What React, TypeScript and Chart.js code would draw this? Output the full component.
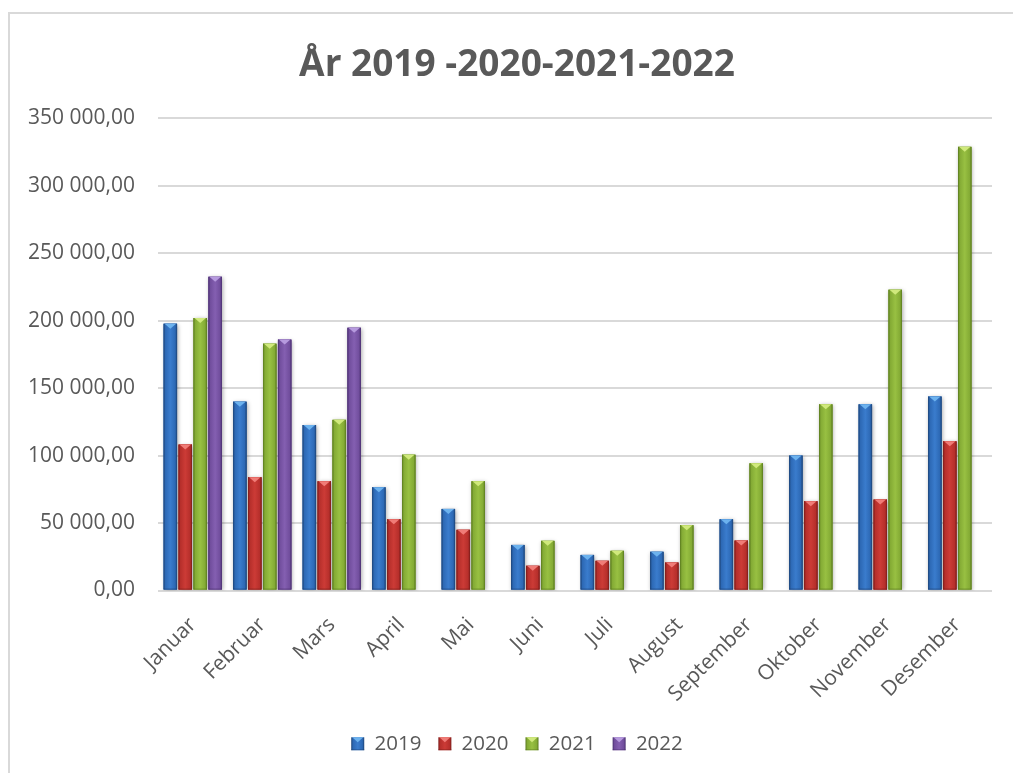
import { useEffect, useRef } from "react";
import { Chart, registerables } from "chart.js";

Chart.register(...registerables);

const months = [
  "Januar", "Februar", "Mars", "April", "Mai", "Juni",
  "Juli", "August", "September", "Oktober", "November", "Desember",
];
const seriesLabels = ["2019", "2020", "2021", "2022"];
const values2019 = [197800, 140000, 122700, 76500, 60500, 33800, 26400, 28700, 52800, 100000, 138000, 143800];
const values2020 = [108200, 84000, 81000, 52800, 45000, 18300, 22000, 20700, 37000, 66200, 67400, 110600];
const values2021 = [202000, 183000, 126500, 100700, 81000, 36800, 29400, 48400, 94300, 138000, 223000, 328900];
const values2022 = [232600, 186000, 194800, null, null, null, null, null, null, null, null, null];
const yMin = 0;
const yMax = 350000;
const yStep = 50000;
const titleText = "År 2019 -2020-2021-2022";

const palettes = [
  { dark: "#1c4274", mid: "#2d69b5", light: "#3a7ccd", cap: "#6cb2ee" },
  { dark: "#7a1b19", mid: "#b62f2b", light: "#cc3b36", cap: "#f07c77" },
  { dark: "#58781d", mid: "#84ab35", light: "#98c042", cap: "#d0e97c" },
  { dark: "#482e6e", mid: "#714e9d", light: "#845fb1", cap: "#b69ade" },
];

const FONT = '"Open Sans", "Noto Sans", sans-serif';
const TEXT = "#595959";

const fmt = (v: number) =>
  Math.round(v).toString().replace(/\B(?=(\d{3})+(?!\d))/g, " ") + ",00";

function paintBox(ctx: CanvasRenderingContext2D, left: number, top: number, w: number, h: number, pal: any, capH: number) {
  const g = ctx.createLinearGradient(left, 0, left + w, 0);
  g.addColorStop(0, pal.dark);
  g.addColorStop(0.14, pal.mid);
  g.addColorStop(0.5, pal.light);
  g.addColorStop(0.86, pal.mid);
  g.addColorStop(1, pal.dark);
  ctx.fillStyle = g;
  ctx.fillRect(left, top, w, h);
  const ch = Math.min(capH, h);
  ctx.fillStyle = pal.cap;
  ctx.beginPath();
  ctx.moveTo(left + 1, top);
  ctx.lineTo(left + w - 1, top);
  ctx.lineTo(left + w / 2, top + ch);
  ctx.closePath();
  ctx.fill();
  ctx.fillStyle = pal.dark;
  ctx.globalAlpha = 0.5;
  ctx.fillRect(left, top + h - 1, w, 1);
  ctx.globalAlpha = 1;
}

const barStyle = {
  id: "barStyle",
  afterDatasetsDraw(chart: any) {
    const ctx = chart.ctx as CanvasRenderingContext2D;
    const bars: any[] = [];
    chart.data.datasets.forEach((ds: any, di: number) => {
      const meta = chart.getDatasetMeta(di);
      meta.data.forEach((el: any, i: number) => {
        if (ds.data[i] == null) return;
        const p = el.getProps(["x", "y", "base", "width"], true);
        bars.push({ ...p, pal: palettes[di] });
      });
    });
    ctx.save();
    ctx.beginPath();
    ctx.rect(chart.chartArea.left, chart.chartArea.top - 10, chart.chartArea.width, chart.chartArea.height + 10);
    ctx.clip();
    ctx.save();
    ctx.shadowColor = "rgba(0,0,0,0.35)";
    ctx.shadowBlur = 4;
    ctx.shadowOffsetX = 1;
    ctx.shadowOffsetY = 1;
    bars.forEach((b) => {
      ctx.fillStyle = b.pal.mid;
      ctx.fillRect(b.x - b.width / 2, b.y, b.width, b.base - b.y);
    });
    ctx.restore();
    bars.forEach((b) => {
      paintBox(ctx, b.x - b.width / 2, b.y, b.width, b.base - b.y, b.pal, 5);
    });
    ctx.restore();
  },
  afterDraw(chart: any) {
    const legend = chart.legend;
    if (!legend || !legend.legendHitBoxes) return;
    const ctx = chart.ctx as CanvasRenderingContext2D;
    const fs = legend.options.labels.font.size || 20;
    legend.legendHitBoxes.forEach((hb: any, i: number) => {
      const bh = 13;
      const top = hb.top + Math.max((fs - bh) / 2, 0);
      ctx.save();
      ctx.fillStyle = "#ffffff";
      ctx.fillRect(hb.left - 1, top - 1, 15, 15);
      paintBox(ctx, hb.left, top, 13, 13, palettes[i], 5);
      ctx.restore();
    });
  },
};

export default function App() {
  const ref = useRef<HTMLCanvasElement>(null);
  useEffect(() => {
    const datasets = [values2019, values2020, values2021, values2022].map((d, i) => ({
      label: seriesLabels[i],
      data: d,
      backgroundColor: palettes[i].mid,
      borderWidth: 0,
      categoryPercentage: 0.86,
      barPercentage: 0.9,
    }));
    const chart = new Chart(ref.current as HTMLCanvasElement, {
      type: "bar",
      data: { labels: months, datasets },
      options: {
        animation: false,
        responsive: false,
        devicePixelRatio: 1,
        layout: { padding: { left: 17, right: 0, top: 0, bottom: 10 } },
        plugins: {
          title: {
            display: true,
            text: titleText,
            color: TEXT,
            font: { family: FONT, size: 37, weight: "bold", lineHeight: 1.2 },
            padding: { top: 29, bottom: 31 },
          },
          legend: {
            position: "bottom",
            labels: {
              boxWidth: 13,
              boxHeight: 13,
              padding: 17,
              color: TEXT,
              font: { family: FONT, size: 20.5 },
            },
          },
          tooltip: { enabled: false },
        },
        scales: {
          x: {
            grid: { display: false },
            border: { display: false },
            ticks: {
              color: TEXT,
              font: { family: FONT, size: 21 },
              maxRotation: 45,
              minRotation: 45,
              autoSkip: false,
              padding: 14,
            },
            afterFit: (s: any) => {
              s.height = 126;
            },
          },
          y: {
            min: yMin,
            max: yMax,
            ticks: {
              stepSize: yStep,
              padding: 23,
              color: TEXT,
              font: { family: FONT, size: 21 },
              callback: (v: any) => fmt(Number(v)),
            },
            grid: { color: "#d9d9d9", lineWidth: 2, drawTicks: false },
            border: { display: false },
            afterFit: (s: any) => {
              s.width = 131;
            },
          },
          yRight: {
            position: "right",
            display: true,
            grid: { display: false },
            border: { display: false },
            ticks: { display: false },
            afterFit: (s: any) => {
              s.width = 15;
            },
          },
        },
      } as any,
      plugins: [barStyle],
    });
    return () => chart.destroy();
  }, []);
  return (
    <div style={{ position: "fixed", left: 0, top: 0, width: 1013, height: 773, overflow: "hidden", background: "#ffffff" }}>
      <div
        style={{
          position: "absolute",
          left: 8,
          top: 12,
          width: 1040,
          height: 800,
          border: "2px solid #d9d9d9",
          background: "#ffffff",
        }}
      >
        <canvas ref={ref} width={997} height={760} style={{ display: "block", width: 997, height: 760 }} />
      </div>
    </div>
  );
}
